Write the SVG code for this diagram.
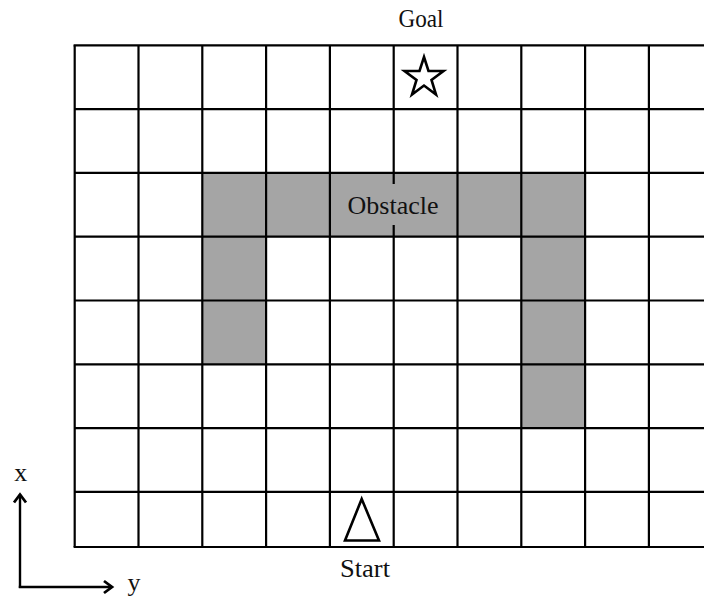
<svg xmlns="http://www.w3.org/2000/svg" width="704" height="601" viewBox="0 0 704 601">
<style>
.grid{stroke:#000;stroke-width:2.2;fill:none}
.obs{fill:#a5a5a5;stroke:none}
.lbl{font-family:"Liberation Serif","DejaVu Serif",serif;font-size:26px;fill:#111;text-anchor:middle}
.shape{fill:#fff;stroke:#000;stroke-width:2.6;stroke-linejoin:miter}
.axis{stroke:#000;stroke-width:2.4;fill:none}
</style>
<defs>
<marker id="chev" markerUnits="userSpaceOnUse" markerWidth="14" markerHeight="16" refX="9" refY="7" orient="auto" viewBox="0 0 14 14">
<path d="M1,1 L9,7 L1,13" fill="none" stroke="#000" stroke-width="2.8"/>
</marker>
</defs>
<rect width="704" height="601" fill="#fff"/>
<g id="obstacle">
<rect class="obs" x="202.3" y="172.9" width="382.8" height="63.8"/>
<rect class="obs" x="202.3" y="236.7" width="63.8" height="127.6"/>
<rect class="obs" x="521.3" y="236.7" width="63.8" height="191.4"/>
</g>
<g id="grid" class="grid">
<path d="M74.7,45.3V547 M138.5,45.3V547 M202.3,45.3V547 M266.1,45.3V547 M329.9,45.3V547 M393.7,45.3V547 M457.5,45.3V547 M521.3,45.3V547 M585.1,45.3V547 M648.9,45.3V547"/>
<path d="M73.6,45.3H704 M74.7,109.1H704 M74.7,172.9H704 M74.7,236.7H704 M74.7,300.5H704 M74.7,364.3H704 M74.7,428.1H704 M74.7,491.9H704 M73.6,547H704"/>
</g>
<g id="obstacle-label">
<rect class="obs" x="344" y="184" width="99" height="41"/>
<text class="lbl" x="393" y="214" textLength="91" lengthAdjust="spacingAndGlyphs">Obstacle</text>
</g>
<g id="goal">
<text class="lbl" x="421" y="26.5" textLength="45" lengthAdjust="spacingAndGlyphs">Goal</text>
<polygon class="shape" points="424,57 428.5,71 443.5,71 431.5,80 436,94.5 424,85.5 412,94.5 416.5,80 404.5,71 419.5,71"/>
</g>
<g id="start">
<polygon class="shape" points="361.7,499 379,540.5 345,540.5"/>
<text class="lbl" x="365" y="577.3" textLength="50" lengthAdjust="spacingAndGlyphs">Start</text>
</g>
<g id="axes">
<path class="axis" d="M20,588 V494.5" marker-end="url(#chev)"/>
<path class="axis" d="M18.8,587 H112" marker-end="url(#chev)"/>
<text class="lbl" x="20.8" y="480.7">x</text>
<text class="lbl" x="134" y="591">y</text>
</g>
</svg>
